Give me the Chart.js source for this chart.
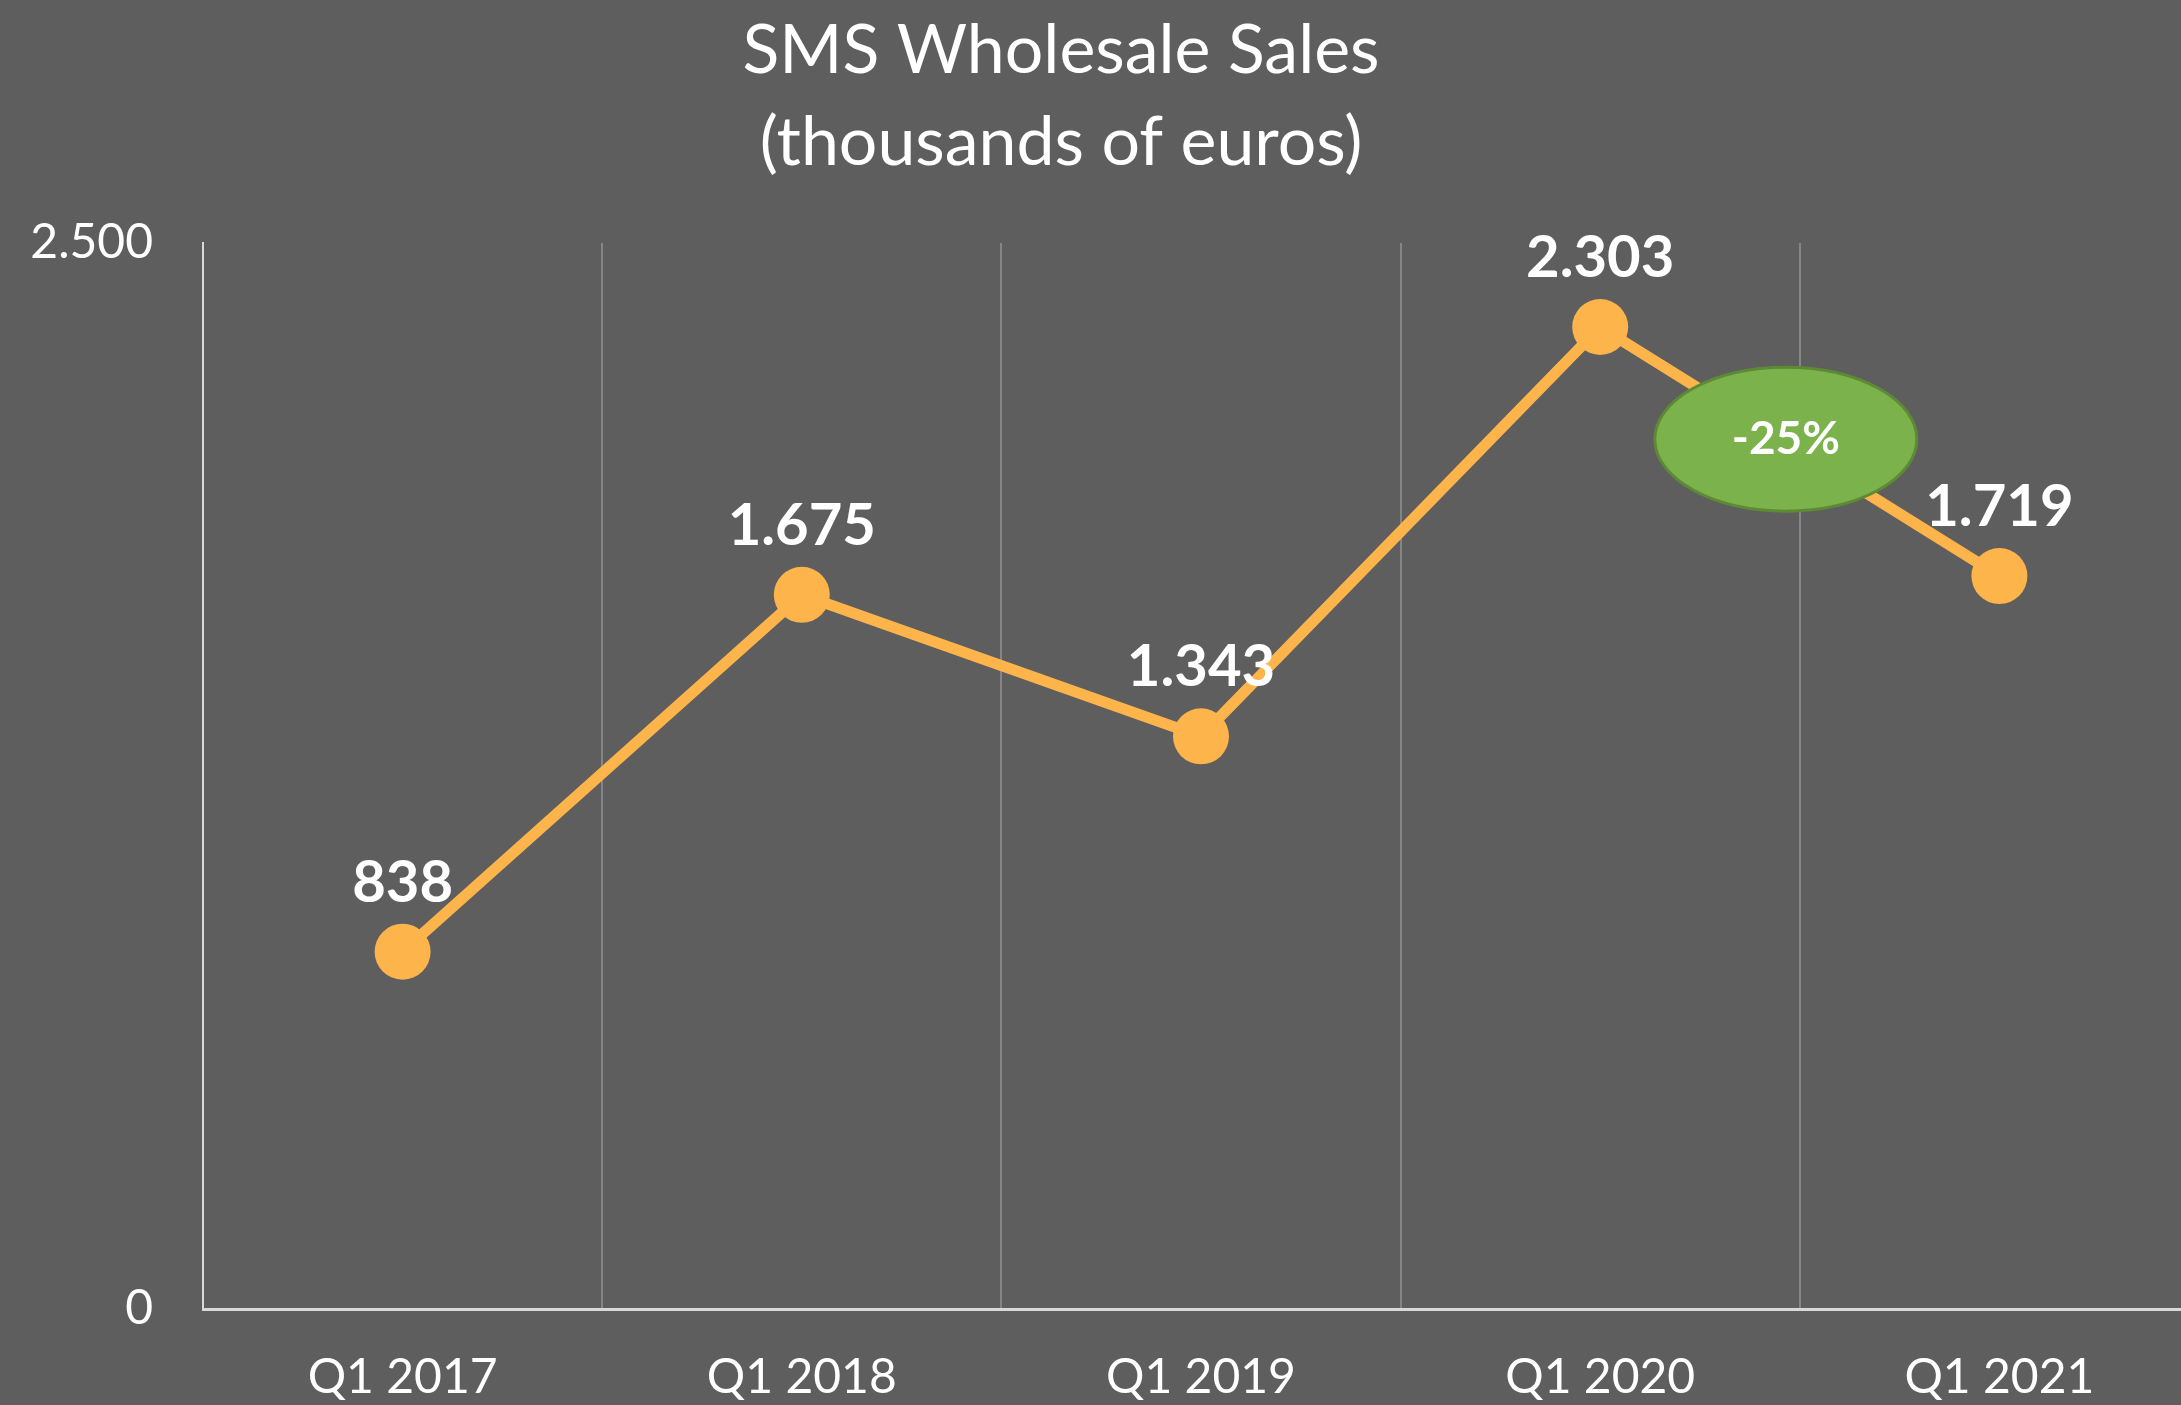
<!DOCTYPE html>
<html>
<head>
<meta charset="utf-8">
<script src="https://cdn.jsdelivr.net/npm/chart.js@4"></script>
<style>
    html, body { margin: 0; padding: 0; background: #5e5e5e; overflow: hidden; }
    /* the plot runs a little past the right edge, as in the original */
    #wrap { width: 2199px; height: 1405px; }
</style>
</head>
<body>
<div id="wrap"><canvas id="salesChart"></canvas></div>
<script>
const quarters = ['Q1 2017', 'Q1 2018', 'Q1 2019', 'Q1 2020', 'Q1 2021'];
const sales = [838, 1675, 1343, 2303, 1719];
const yTicks = [0, 2500];
const titleLines = ['SMS Wholesale Sales', '(thousands of euros)'];

const FONT = 'Lato, "Open Sans", sans-serif';
const lineColor = '#fdb44b';

// 1.675 style numbers
function fmt(v) {
    return String(Math.round(v)).replace(/\B(?=(\d{3})+(?!\d))/g, '.');
}

// change between the last two quarters, shown in the green bubble
const lastChange = Math.round((sales[4] - sales[3]) / sales[3] * 100);

const overlayPlugin = {
    id: 'overlay',
    beforeDraw(chart) {
        const c = chart.ctx;
        c.save();
        c.fillStyle = '#5e5e5e';
        c.fillRect(0, 0, chart.width, chart.height);
        c.fillStyle = '#ffffff';
        c.textAlign = 'center';
        c.textBaseline = 'alphabetic';
        c.font = '68px ' + FONT;
        c.fillText(titleLines[0], 1061, 73);
        c.fillText(titleLines[1], 1061, 165);
        c.restore();
    },
    afterDatasetsDraw(chart) {
        const c = chart.ctx;
        const meta = chart.getDatasetMeta(0);
        const xs = chart.scales.x;
        const ys = chart.scales.y;
        c.save();

        // value labels
        c.fillStyle = '#ffffff';
        c.font = 'bold 58px ' + FONT;
        c.textAlign = 'center';
        c.textBaseline = 'alphabetic';
        meta.data.forEach((pt, i) => {
            c.fillText(fmt(sales[i]), pt.x, pt.y - 50);
        });

        // green bubble between Q1 2020 and Q1 2021
        const cx = xs.getPixelForValue(3.465);
        const cy = ys.getPixelForValue(2040);
        c.beginPath();
        c.ellipse(cx, cy, 131, 72, 0, 0, Math.PI * 2);
        c.fillStyle = '#7cb24b';
        c.fill();
        c.lineWidth = 3;
        c.strokeStyle = '#5e8a36';
        c.stroke();
        c.fillStyle = '#ffffff';
        c.font = 'bold 46px ' + FONT;
        c.textBaseline = 'middle';
        c.fillText(lastChange + '%', cx, cy);
        c.restore();
    }
};

const ctx = document.getElementById('salesChart').getContext('2d');
const chart = new Chart(ctx, {
    type: 'line',
    data: {
        labels: quarters,
        datasets: [{
            data: sales,
            borderColor: lineColor,
            backgroundColor: lineColor,
            borderWidth: 11,
            pointRadius: 28,
            pointHoverRadius: 28,
            pointBorderWidth: 0,
            tension: 0,
        }],
    },
    options: {
        responsive: true,
        maintainAspectRatio: false,
        animation: false,
        layout: {
            autoPadding: false,
            padding: { top: 243, left: 0, right: 0, bottom: 0 },
        },
        plugins: {
            legend: { display: false },
            title: { display: false },
            tooltip: { enabled: false },
        },
        scales: {
            x: {
                type: 'category',
                offset: true,
                grid: {
                    offset: true,
                    color: '#858585',
                    lineWidth: 2,
                    drawTicks: false,
                },
                border: { display: true, color: '#d9d9d9', width: 3 },
                ticks: {
                    color: '#ffffff',
                    font: { family: FONT, size: 48 },
                    padding: 40,
                    maxRotation: 0,
                },
                afterFit(scale) { scale.height = 96; },
            },
            y: {
                min: 0,
                max: 2500,
                grid: { display: false, drawTicks: false },
                border: { display: true, color: '#d9d9d9', width: 2 },
                afterBuildTicks(scale) {
                    scale.ticks = yTicks.map(v => ({ value: v }));
                },
                ticks: {
                    color: '#ffffff',
                    font: { family: FONT, size: 48 },
                    padding: 50,
                    callback: (v) => fmt(v),
                },
                afterFit(scale) { scale.width = 203; },
            },
        },
    },
    plugins: [overlayPlugin],
});
</script>
</body>
</html>
